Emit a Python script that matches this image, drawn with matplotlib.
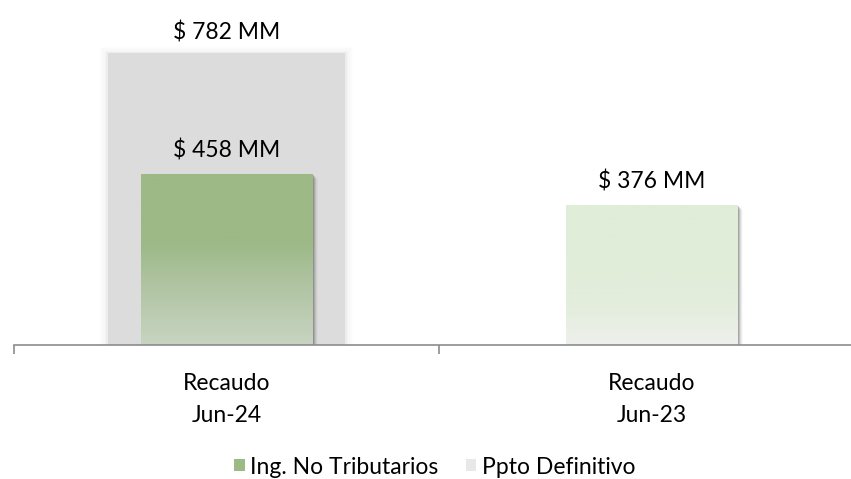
import matplotlib
matplotlib.use("Agg")
import matplotlib.pyplot as plt
import numpy as np
from matplotlib.patches import Rectangle, Patch
from matplotlib.colors import LinearSegmentedColormap
import matplotlib.transforms as mtransforms

categories = ["Recaudo\nJun-24", "Recaudo\nJun-23"]
ing_no_trib = [458, 376]
ppto_def = [782, None]
label_ing = ["$ 458 MM", "$ 376 MM"]
label_ppto = ["$ 782 MM", None]
series_names = ["Ing. No Tributarios", "Ppto Definitivo"]

plt.rcParams['font.family'] = ['Lato', 'DejaVu Sans']
FS = 16.5

fig = plt.figure(figsize=(8.51, 4.79), dpi=100)
W, H = 851, 479
base_y = 345
ax = fig.add_axes([14 / W, 1 - base_y / H, 850 / W, (base_y - 10) / H])
px_per_unit = 292 / 782
ax.set_ylim(0, (base_y - 10) / px_per_unit)
ax.set_xlim(-0.5, 1.5)

x = np.arange(len(categories))

# Ppto bars (wide, grey, behind)
ppto_vals = [v if v is not None else 0 for v in ppto_def]
ppto_bars = ax.bar(x, ppto_vals, width=0.557, color="#DCDCDC", zorder=2, linewidth=0)
for b, v in zip(ppto_bars, ppto_def):
    if v is None:
        b.set_visible(False)
        continue
    x0, w, h = b.get_x(), b.get_width(), b.get_height()
    for i, a in enumerate([0.12, 0.09, 0.06, 0.04, 0.02]):
        d = (i + 1) * 0.004
        r = Rectangle((x0 - d, 0), w + 2 * d, h + d * 800, color="#C8C8C8", alpha=a,
                      lw=0, zorder=1)
        ax.add_patch(r)

# Ing bars (narrow, green gradients)
ing_bars = ax.bar(x, ing_no_trib, width=0.403, color="none", zorder=4, linewidth=0)
cmaps = [
    LinearSegmentedColormap.from_list("g1", [(0, "#C8D4C2"), (0.35, "#B0C4A2"), (0.6, "#9CB986"), (1, "#9CB986")]),
    LinearSegmentedColormap.from_list("g2", [(0, "#EEF0EC"), (0.3, "#E3EDDC"), (0.6, "#E0EDD8"), (1, "#E0EDD8")]),
]
grad = np.linspace(0, 1, 256).reshape(-1, 1)
for b, cm in zip(ing_bars, cmaps):
    x0, w, h = b.get_x(), b.get_width(), b.get_height()
    for i, a in enumerate([0.22, 0.16, 0.10, 0.06, 0.03]):
        off = mtransforms.offset_copy(ax.transData, fig=fig, x=(1.5 + i) * 0.72, y=-(1.5 + i) * 0.72, units="points")
        r = Rectangle((x0, 0), w, h, color="#404040", alpha=a, lw=0, zorder=3, transform=off)
        ax.add_patch(r)
    im = ax.imshow(grad, extent=[x0, x0 + w, 0, h], origin="lower", cmap=cm, aspect="auto", zorder=4)
    im.set_clip_path(b)
ax.set_xlim(-0.5, 1.5)
ax.set_ylim(0, (base_y - 10) / px_per_unit)

# labels
for xi, v, t in zip(x, ppto_def, label_ppto):
    if v is not None:
        ax.annotate(t, (xi, v), xytext=(0, 6.5), textcoords="offset points", ha="center", va="bottom",
                    fontsize=FS, color="#000000", zorder=6)
for xi, v, t in zip(x, ing_no_trib, label_ing):
    ax.annotate(t, (xi, v), xytext=(0, 9), textcoords="offset points", ha="center", va="bottom",
                fontsize=FS, color="#000000", zorder=6)

for s in ["top", "right", "left"]:
    ax.spines[s].set_visible(False)
ax.spines["bottom"].set_color("#8C8C8C")
ax.spines["bottom"].set_linewidth(1.2)
ax.spines["bottom"].set_zorder(7)
ax.set_yticks([])
ax.set_xticks([-0.5, 0.5, 1.5])
ax.set_xticklabels([])
ax.tick_params(axis="x", which="major", length=6.5, width=1.2, color="#8C8C8C")
ax.set_xticks(x, minor=True)
ax.set_xticklabels(categories, minor=True, fontsize=FS, linespacing=1.6)
ax.tick_params(axis="x", which="minor", length=0, pad=20.5)

handles = [Patch(facecolor="#9CB986", edgecolor="none"), Patch(facecolor="#E8E8E8", edgecolor="none")]
fig.legend(handles, series_names, loc="center", bbox_to_anchor=(435 / W, 1 - 467 / H), ncol=2,
           frameon=False, fontsize=FS, handlelength=0.45, handleheight=0.45, handletextpad=0.25,
           columnspacing=1.2)

fig.savefig("out.png", dpi=100)
